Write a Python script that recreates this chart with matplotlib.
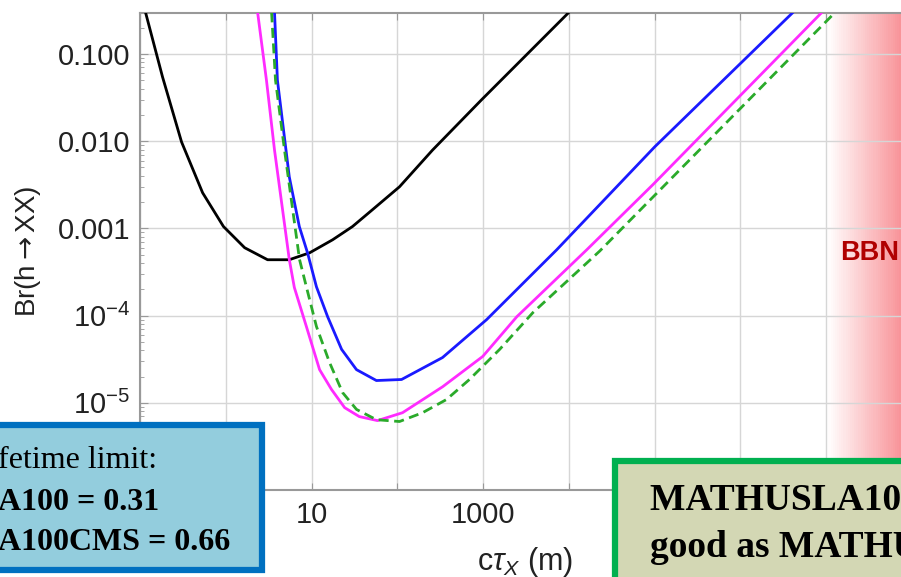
import numpy as np
import matplotlib
matplotlib.use("Agg")
import matplotlib.pyplot as plt
from matplotlib.patches import Rectangle
from matplotlib.colors import LinearSegmentedColormap
from matplotlib.ticker import FixedLocator, FixedFormatter, LogLocator, NullFormatter

plt.rcParams['font.family'] = ['Liberation Sans', 'DejaVu Sans']
plt.rcParams['mathtext.fontset'] = 'custom'
plt.rcParams['mathtext.rm'] = 'Liberation Sans'
plt.rcParams['mathtext.it'] = 'Liberation Sans:italic'
plt.rcParams['mathtext.sf'] = 'DejaVu Sans'

# curves: (c tau [m], Br(h->XX))
black_x = [0.116, 0.183, 0.305, 0.537, 0.94, 1.66, 3.07, 5.5, 9.5, 17.6, 30, 51, 106, 257, 955, 1.0e4]
black_y = [0.30, 0.0546, 0.0098, 0.00256, 0.00105, 6.0e-4, 4.37e-4, 4.37e-4, 5.25e-4, 7.4e-4,
           1.05e-3, 1.63e-3, 3.0e-3, 7.9e-3, 0.0297, 0.30]

blue_x = [3.7, 4.0, 5.5, 7.2, 9.0, 11.4, 15.4, 22.4, 33.4, 57, 112, 336, 1100, 7230, 1.0e5, 4.1e6]
blue_y = [0.30, 0.050, 3.9e-3, 1.05e-3, 5.2e-4, 2.14e-4, 9.7e-5, 4.1e-5, 2.4e-5, 1.8e-5, 1.85e-5,
          3.3e-5, 9.0e-5, 5.7e-4, 8.6e-3, 0.30]

magenta_x = [2.35, 2.98, 3.7, 5.5, 6.3, 8.7, 12.4, 17.1, 24.3, 36, 58.7, 115, 338, 990, 2470,
             1.62e4, 9.5e4, 8.9e6]
magenta_y = [0.30, 0.050, 7.9e-3, 4.4e-4, 2.1e-4, 7.5e-5, 2.4e-5, 1.42e-5, 8.8e-6, 6.95e-6, 6.25e-6,
             7.7e-6, 1.53e-5, 3.4e-5, 9.7e-5, 5.7e-4, 3.16e-3, 0.30]

green_x = [3.42, 3.8, 4.84, 7.24, 8.7, 11.4, 16.2, 23, 33.4, 57, 106, 197, 374, 693, 1560, 3800,
           2.29e4, 1.27e7]
green_y = [0.30, 0.050, 7.9e-3, 4.4e-4, 2.14e-4, 7.5e-5, 2.9e-5, 1.31e-5, 8.4e-6, 6.4e-6, 6.1e-6,
           7.7e-6, 1.09e-5, 1.85e-5, 4.1e-5, 1.08e-4, 5.5e-4, 0.30]

x_ticks = [0.1, 1, 10, 100, 1000, 1e4, 1e5, 1e6, 1e7, 1e8]
x_labels = ['0.1', '', '10', '', '1000', '', '$10^5$', '', '$10^7$', '']
y_ticks = [1e-6, 1e-5, 1e-4, 1e-3, 1e-2, 1e-1]
y_labels = ['$10^{-6}$', '$10^{-5}$', '$10^{-4}$', '0.001', '0.010', '0.100']

W, H = 901, 577


def fx(px):
    return px / W


def fy(py):
    return 1 - py / H


fig = plt.figure(figsize=(W / 100, H / 100), dpi=100)
ax = fig.add_axes([fx(140), fy(490), (912 - 140) / W, (490 - 13) / H])
ax.set_xscale('log')
ax.set_yscale('log')
ax.set_xlim(0.1, 1e8)
ax.set_ylim(1e-6, 0.295)

# BBN shaded region, from 1e7 m on
cmap = LinearSegmentedColormap.from_list('bbn', [(1, 1, 1), (0.969, 0.52, 0.544)])
xe = np.logspace(7, 8, 41)
ax.pcolormesh(xe, [1e-6, 0.295], np.linspace(0, 1, 40).reshape(1, -1), cmap=cmap,
              shading='flat', zorder=0.3)
ax.text(3.2e7, 5.2e-4, 'BBN', color='#b00000', fontsize=19.5, fontweight='bold',
        ha='center', va='center')

ax.plot(black_x, black_y, color='black', lw=2.0, zorder=3)
ax.plot(blue_x, blue_y, color='#1a1aff', lw=2.0, zorder=3)
ax.plot(magenta_x, magenta_y, color='#ff2bff', lw=2.0, zorder=3)
ax.plot(green_x, green_y, color='#2aaa2a', lw=2.0, ls=(0, (3.6, 2)), zorder=3)

ax.set_axisbelow(True)
ax.grid(True, which='major', color='#d6d6d6', lw=1)

ax.xaxis.set_major_locator(FixedLocator(x_ticks))
ax.xaxis.set_major_formatter(FixedFormatter(x_labels))
ax.xaxis.set_minor_locator(FixedLocator([]))
ax.yaxis.set_major_locator(FixedLocator(y_ticks))
ax.yaxis.set_major_formatter(FixedFormatter(y_labels))
ax.yaxis.set_minor_locator(LogLocator(base=10, subs=np.arange(2, 10)))
ax.yaxis.set_minor_formatter(NullFormatter())

ax.tick_params(which='both', direction='in', colors='#999999', labelcolor='#222222',
               top=True, labelsize=21)
ax.tick_params(axis='x', which='major', length=5, pad=8)
ax.tick_params(axis='y', which='major', length=6, pad=7)
ax.tick_params(axis='y', which='minor', length=3)
for s in ax.spines.values():
    s.set_color('#999999')
    s.set_linewidth(1.5)

ax.set_ylabel(r'Br(h$\mathsf{\rightarrow}$XX)', fontsize=20, color='#222222')
ax.yaxis.set_label_coords(-0.126, 0.5)
ax.set_xlabel(r'c$\tau_X$ (m)', fontsize=22, color='#222222')
ax.xaxis.set_label_coords((525 - 140) / 772, (490 - 545) / 477)

# annotation boxes on top of the chart
left_box = Rectangle((fx(-10), fy(570)), fx(272), (570 - 425) / H, transform=fig.transFigure,
                     facecolor='#93cddd', edgecolor='#0070c0', lw=4.5, zorder=5)
fig.add_artist(left_box)
fig.text(fx(-2), fy(468), 'fetime limit:', family='Liberation Serif', fontsize=23,
         va='baseline', zorder=6)
fig.text(fx(-2), fy(510), 'A100 = 0.31', family='Liberation Serif', fontsize=23,
         fontweight='bold', va='baseline', zorder=6)
fig.text(fx(-2), fy(550), 'A100CMS = 0.66', family='Liberation Serif', fontsize=23,
         fontweight='bold', va='baseline', zorder=6)

right_box = Rectangle((fx(615), fy(620)), fx(335), (620 - 461) / H, transform=fig.transFigure,
                      facecolor='#d3d7b4', edgecolor='#00b050', lw=4.5, zorder=5)
fig.add_artist(right_box)
fig.text(fx(650), fy(510), 'MATHUSLA100CMS is as', family='Liberation Serif', fontsize=27,
         fontweight='bold', va='baseline', zorder=6)
fig.text(fx(650), fy(557), 'good as MATHUSLA100', family='Liberation Serif', fontsize=27,
         fontweight='bold', va='baseline', zorder=6)

fig.savefig('out.png', dpi=100)
